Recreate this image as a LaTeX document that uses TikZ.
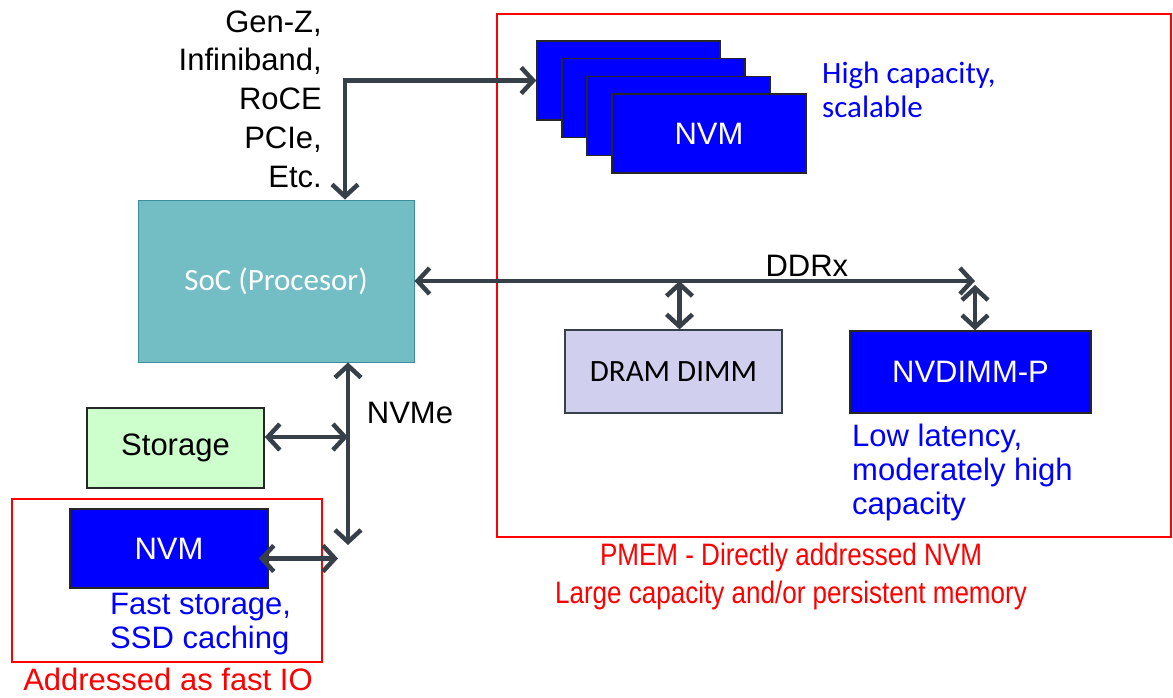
\documentclass[tikz,border=0pt]{standalone}
\usepackage{fontspec}
\setmainfont{Liberation Sans}
\newfontfamily\calibrifont{Carlito}
\newfontfamily\narrowfont[FakeStretch=0.84]{Liberation Sans}
\usetikzlibrary{arrows.meta}
\definecolor{linkgray}{RGB}{55,64,72}
\definecolor{socfill}{RGB}{114,190,196}
\definecolor{socline}{RGB}{60,140,155}
\definecolor{dramfill}{RGB}{208,208,238}
\definecolor{storfill}{RGB}{204,255,204}
\definecolor{nvmblue}{RGB}{0,0,255}
\definecolor{pmemred}{RGB}{255,0,0}
\tikzset{
  nvmbox/.style={draw=black!85, line width=1.5pt, fill=nvmblue, text=white, minimum height=79pt, inner sep=0pt},
  link/.style={draw=linkgray, line width=4.5pt, line cap=round, >={Straight Barb[length=12pt,width=26pt]}},
  note/.style={inner sep=0pt, font=\fontsize{31}{34}\selectfont},
}
\begin{document}
\begin{tikzpicture}[x=1pt,y=-1pt, font=\fontsize{31}{34}\selectfont]
    \useasboundingbox (0,0) rectangle (1173,697);

    % Rahmen
    \draw[pmemred, line width=1.2pt] (497,14) rectangle (1171,537);
    \draw[pmemred, line width=1.2pt] (12,499) rectangle (322,662);

    % NVM-Stapel
    \foreach \i/\w/\t in {0/183/,1/183/,2/183/,3/194/NVM}
    \node[nvmbox, minimum width=\w pt] (nvm\i) at ({537+\w/2+25*\i},{80.5+17.7*\i}) {\t};
    \node[note, anchor=west, align=left, text=nvmblue, font=\calibrifont\fontsize{31}{34}\selectfont] (hicap) at (822,90) {High capacity,\\scalable};

    % Prozessor
    \node[draw=socline, line width=1pt, fill=socfill, text=white, minimum width=276pt, minimum height=162pt, font=\calibrifont\fontsize{31}{34}\selectfont] (soc) at (276,281) {SoC (Procesor)};
    \node[note, anchor=east, align=right, font=\fontsize{31}{38.7}\selectfont] (fabric) at (322,99) {Gen-Z,\\Infiniband,\\RoCE\\PCIe,\\Etc.};

    % Speicher am DDR-Bus
    \node[draw=linkgray, line width=1.2pt, fill=dramfill, minimum width=217pt, minimum height=83pt, font=\calibrifont\fontsize{31}{34}\selectfont] (dram) at (673.5,371.5) {DRAM DIMM};
    \node[nvmbox, minimum width=241pt, minimum height=82pt] (nvdimm) at (970.5,372) {NVDIMM-P};
    \node[note, anchor=west, align=left, text=nvmblue] (lowlat) at (852,472) {Low latency,\\moderately high\\capacity};
    \node[note, align=center, text=pmemred, font=\narrowfont\fontsize{31}{38}\selectfont] (pmem) at (791,576) {PMEM - Directly addressed NVM\\Large capacity and/or persistent memory};

    % IO-Seite
    \node[draw=black!85, line width=1.5pt, fill=storfill, minimum width=177pt, minimum height=80pt] (storage) at (175.5,448) {Storage};
    \node[nvmbox, minimum width=198pt, minimum height=79pt] (nvmio) at (169,548.5) {NVM};
    \node[note, anchor=west, align=left, text=nvmblue] (fast) at (110,624) {Fast storage,\\SSD caching};
    \node[note, text=pmemred] (fastio) at (168,679) {Addressed as fast IO};

    % Verbindungen
    \coordinate (bend) at (345,80.5);
    \coordinate (ddrend) at (975,281);
    \coordinate (nvmebot) at (348,545);
    \draw[link,<->] (soc.north -| bend) -- (bend) -- (nvm0.west);
    \draw[link,<->] (soc.east) -- (ddrend) node[pos=0.7, above=2pt, note] (ddrx) {DDRx};
    \draw[link,<->] ([xshift=6pt]dram.north |- soc.east) -- ([xshift=6pt]dram.north);
    \draw[link,<->] ([yshift=-4pt]ddrend) -- (nvdimm.north -| ddrend);
    \draw[link,<->] (soc.south -| nvmebot) -- (nvmebot);
    \node[note] (nvme) at (410,413) {NVMe};
    \draw[link,<->] ([yshift=11pt]storage.east) -- ([yshift=11pt]storage.east -| nvmebot);
    \draw[link,<->] ([xshift=-10pt,yshift=-10pt]nvmio.east) -- ([xshift=-10pt,yshift=-10pt]nvmio.east -| nvmebot);
\end{tikzpicture}
\end{document}
